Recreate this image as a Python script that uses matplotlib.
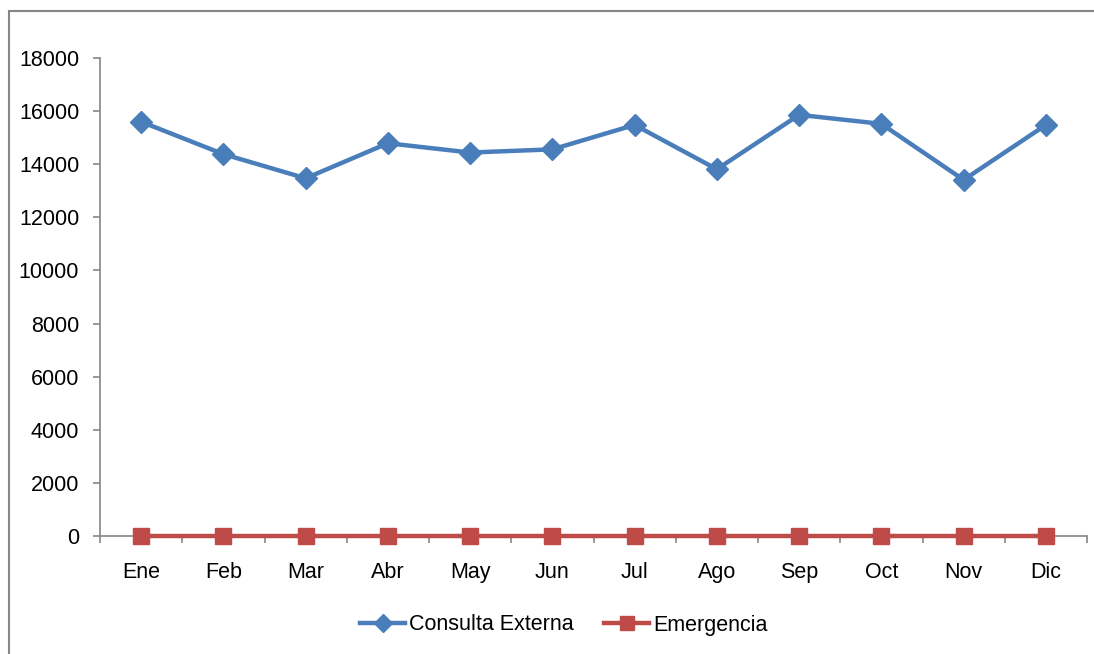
import matplotlib.pyplot as plt
from matplotlib.patches import Rectangle
import numpy as np

plt.rcParams['font.family'] = ['Liberation Sans', 'DejaVu Sans']

meses = ['Ene', 'Feb', 'Mar', 'Abr', 'May', 'Jun', 'Jul', 'Ago', 'Sep', 'Oct', 'Nov', 'Dic']
consulta_externa = [15600, 14380, 13470, 14790, 14440, 14560, 15480, 13810, 15860, 15520, 13410, 15480]
emergencia = [0, 0, 0, 0, 0, 0, 0, 0, 0, 0, 0, 0]
yticks = [0, 2000, 4000, 6000, 8000, 10000, 12000, 14000, 16000, 18000]

fig = plt.figure(figsize=(10.94, 6.54), dpi=100)
ax = fig.add_axes([100 / 1094, 1 - 536 / 654, 987 / 1094, 478 / 654])

# outer chart border (Excel style)
fig.patches.append(Rectangle((9 / 1094, -0.1), 1.2, 1 - 11 / 654 + 0.1,
                             transform=fig.transFigure, fill=False,
                             edgecolor='#868686', linewidth=1.5))

x = np.arange(len(meses))
ax.plot(x, consulta_externa, color='#4A7EBB', linewidth=3.2, marker='D',
        markersize=11, label='Consulta Externa', zorder=3)
ax.plot(x, emergencia, color='#BE4B48', linewidth=3.2, marker='s',
        markersize=12, label='Emergencia', zorder=3, clip_on=False)

ax.set_xlim(-0.5, len(meses) - 0.5)
ax.set_ylim(0, 18000)
ax.set_yticks(yticks)
ax.set_yticklabels([str(v) for v in yticks], fontsize=15.5)
ax.set_xticks(x)
ax.set_xticklabels(meses, fontsize=15.5)
ax.set_xticks(np.arange(-0.5, len(meses)), minor=True)
ax.tick_params(axis='x', which='major', length=0, pad=19)
ax.tick_params(axis='x', which='minor', length=5, color='#868686', width=1.2, direction='out')
ax.tick_params(axis='y', length=5, color='#868686', width=1.2, pad=10)

for s in ['top', 'right']:
    ax.spines[s].set_visible(False)
ax.spines['left'].set_color('#868686')
ax.spines['bottom'].set_color('#868686')
ax.spines['left'].set_linewidth(1.2)
ax.spines['bottom'].set_linewidth(1.2)

fig.legend(loc='center', bbox_to_anchor=(564 / 1094, 1 - 625 / 654), ncol=2,
           frameon=False, fontsize=15.5, handlelength=2.1, handletextpad=0.2,
           columnspacing=1.4, markerscale=0.8)

fig.savefig('out.png', dpi=100)
